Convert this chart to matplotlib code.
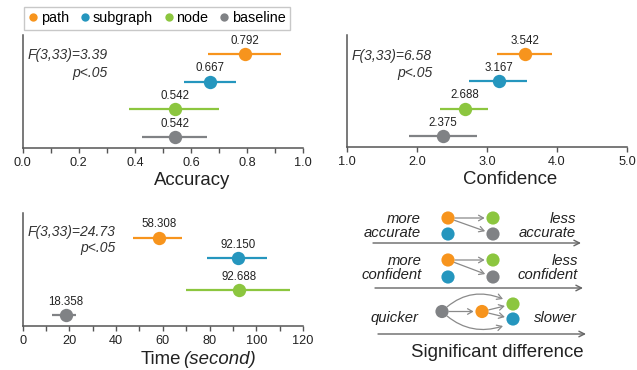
import matplotlib
matplotlib.use("Agg")
import matplotlib.pyplot as plt
from matplotlib.lines import Line2D
from matplotlib.ticker import MultipleLocator, FormatStrFormatter

plt.rcParams["font.family"] = ["Liberation Sans", "DejaVu Sans"]

# ---- data -------------------------------------------------------------
conditions = ["path", "subgraph", "node", "baseline"]
cond_colors = ["#F7941D", "#2596BE", "#8CC63F", "#808285"]

accuracy_mean = [0.792, 0.667, 0.542, 0.542]
accuracy_lo = [0.66, 0.575, 0.38, 0.425]
accuracy_hi = [0.92, 0.76, 0.70, 0.657]
accuracy_stat = ["F(3,33)=3.39", "p<.05"]

confidence_mean = [3.542, 3.167, 2.688, 2.375]
confidence_lo = [3.14, 2.74, 2.33, 1.88]
confidence_hi = [3.93, 3.57, 3.01, 2.86]
confidence_stat = ["F(3,33)=6.58", "p<.05"]

time_mean = [58.308, 92.150, 92.688, 18.358]
time_lo = [47.3, 79.0, 69.9, 12.5]
time_hi = [68.0, 104.4, 114.4, 22.8]
time_stat = ["F(3,33)=24.73", "p<.05"]

# significance ordering: columns of conditions, left = better
acc_groups = [["path", "subgraph"], ["node", "baseline"]]
acc_edges = [("path", "node"), ("path", "baseline")]
conf_groups = [["path", "subgraph"], ["node", "baseline"]]
conf_edges = [("path", "node"), ("path", "baseline")]
time_groups = [["baseline"], ["path"], ["node", "subgraph"]]
time_edges = [("baseline", "path"), ("baseline", "node"), ("baseline", "subgraph"),
              ("path", "node"), ("path", "subgraph")]

color_of = dict(zip(conditions, cond_colors))
W, H = 637, 370
fig = plt.figure(figsize=(W / 100, H / 100), dpi=100)

SPINE = "#555555"
TXT = "#222222"


def px_axes(left, top, right, bottom):
    return fig.add_axes([left / W, 1 - bottom / H, (right - left) / W, (bottom - top) / H])


def ci_panel(ax, mean, lo, hi, rows, xlim, major, minor, fmt, label, label_x, stat, stat_pos):
    for m, l, h, r, c in zip(mean, lo, hi, rows, cond_colors):
        ax.plot([l, h], [r, r], color=c, lw=1.6, solid_capstyle="butt", zorder=2)
        ax.plot([m], [r], "o", color=c, ms=9.6, mec="none", zorder=3)
        ax.annotate(f"{m:.3f}", (m, r), xytext=(0, 9.5), textcoords="offset points",
                    ha="center", va="center", fontsize=8.3, color=TXT)
    ax.set_xlim(*xlim)
    ax.set_ylim(0.6, 4.69)
    ax.set_yticks([])
    for s in ("top", "right"):
        ax.spines[s].set_visible(False)
    for s in ("left", "bottom"):
        ax.spines[s].set_color(SPINE)
        ax.spines[s].set_linewidth(1.1)
    ax.xaxis.set_major_locator(MultipleLocator(major))
    if minor:
        ax.xaxis.set_minor_locator(MultipleLocator(minor))
    ax.xaxis.set_major_formatter(FormatStrFormatter(fmt))
    ax.tick_params(axis="x", which="both", direction="out", length=3.5, width=1,
                   color=SPINE, labelsize=9.2, labelcolor=TXT, pad=3)
    if label:
        ax.set_xlabel(label, fontsize=13.4, color=TXT)
        ax.xaxis.set_label_coords(label_x, -0.215)
        ax.xaxis.label.set_va("top")
    ax.text(stat_pos[0], stat_pos[1], stat[0], transform=ax.transAxes, fontsize=10,
            style="italic", ha="left", va="center", color="#333333")
    ax.text(stat_pos[2], stat_pos[3], stat[1], transform=ax.transAxes, fontsize=10,
            style="italic", ha="right", va="center", color="#333333")


even_rows = [4, 3, 2, 1]
time_rows = [3.8, 3.05, 1.9, 1.0]

ax1 = px_axes(22.7, 35, 303, 148)
ci_panel(ax1, accuracy_mean, accuracy_lo, accuracy_hi, even_rows, (0, 1), 0.2, 0.1, "%.1f",
         "Accuracy", 0.604, accuracy_stat, (0.019, 0.823, 0.304, 0.664))

ax2 = px_axes(347, 35, 627, 147)
ci_panel(ax2, confidence_mean, confidence_lo, confidence_hi, even_rows, (1, 5), 1.0, None,
         "%.1f", "Confidence", 0.582, confidence_stat, (0.018, 0.81, 0.304, 0.66))

ax3 = px_axes(22.7, 213, 303, 326)
ci_panel(ax3, time_mean, time_lo, time_hi, time_rows, (0, 120), 20, 10, "%d",
         None, None, time_stat, (0.019, 0.83, 0.333, 0.69))
# axis title: upright "Time" followed by italic unit
fig.text(181 / W, 1 - 360 / H, "Time", ha="right", va="center", fontsize=13.4, color=TXT)
fig.text(183 / W, 1 - 360 / H, "(second)", ha="left", va="center", fontsize=13.4,
         style="italic", color=TXT)

# ---- legend -----------------------------------------------------------
handles = [Line2D([], [], ls="none", marker="o", ms=6, color=c, mec="none") for c in cond_colors]
leg = fig.legend(handles, conditions, loc="upper left", bbox_to_anchor=(24 / W, 1 - 7 / H),
                 ncol=4, fontsize=10.4, frameon=True, fancybox=False, handlelength=0.6,
                 handletextpad=0.25, columnspacing=0.8, borderpad=0.3, borderaxespad=0)
leg.get_frame().set_edgecolor("#BBBBBB")
leg.get_frame().set_linewidth(1.0)

# ---- significance diagram ---------------------------------------------
axd = px_axes(340, 190, 637, 370)
axd.set_xlim(340, 637)
axd.set_ylim(370, 190)
axd.axis("off")

ARROW = "#8A8A8A"
# curved edges: (arc curvature, end-point offset from the target dot)
diagram_rows = [
    dict(groups=acc_groups, edges=acc_edges, col_x=[448, 493], yc=226, gap=16,
         left="more\naccurate", right="less\naccurate", lx=421, rx=576, ty=226,
         line_y=243, line_x=(373, 581), curved={}),
    dict(groups=conf_groups, edges=conf_edges, col_x=[448, 493], yc=268.5, gap=17,
         left="more\nconfident", right="less\nconfident", lx=422, rx=578, ty=268,
         line_y=288, line_x=(375, 583), curved={}),
    dict(groups=time_groups, edges=time_edges, col_x=[442, 482, 513], yc=311.5, gap=15,
         left="quicker", right="slower", lx=418, rx=577, ty=318,
         line_y=334, line_x=(378, 586),
         curved={("baseline", "node"): (-0.33, -10, -5),
                 ("baseline", "subgraph"): (0.3, -10, 7)}),
]

for row in diagram_rows:
    pos = {}
    for x, grp in zip(row["col_x"], row["groups"]):
        n = len(grp)
        for i, name in enumerate(grp):
            pos[name] = (x, row["yc"] + (i - (n - 1) / 2) * row["gap"])
    for a, b in row["edges"]:
        if (a, b) in row["curved"]:
            rad, dx, dy = row["curved"][(a, b)]
            end = (pos[b][0] + dx, pos[b][1] + dy)
            shrink_b = 0
        else:
            rad, end, shrink_b = 0.0, pos[b], 6
        axd.annotate("", xy=end, xytext=pos[a],
                     arrowprops=dict(arrowstyle="->,head_length=0.35,head_width=0.2",
                                     color=ARROW, lw=0.9, shrinkA=5, shrinkB=shrink_b,
                                     connectionstyle=f"arc3,rad={rad}"), zorder=1)
    for name, (x, y) in pos.items():
        axd.scatter([x], [y], s=90, color=color_of[name], edgecolors="none", zorder=3)
    axd.text(row["lx"], row["ty"], row["left"], ha="right", va="center", fontsize=10.7,
             style="italic", color=TXT, linespacing=1.0)
    axd.text(row["rx"], row["ty"], row["right"], ha="right", va="center", fontsize=10.7,
             style="italic", color=TXT, linespacing=1.0)
    axd.annotate("", xy=(row["line_x"][1], row["line_y"]), xytext=(row["line_x"][0], row["line_y"]),
                 arrowprops=dict(arrowstyle="->,head_length=0.4,head_width=0.2", color="#666666",
                                 lw=1.0, shrinkA=0, shrinkB=0))

axd.text(497, 353, "Significant difference", ha="center", va="center", fontsize=13.4, color=TXT)

fig.savefig("out.png", dpi=100)
